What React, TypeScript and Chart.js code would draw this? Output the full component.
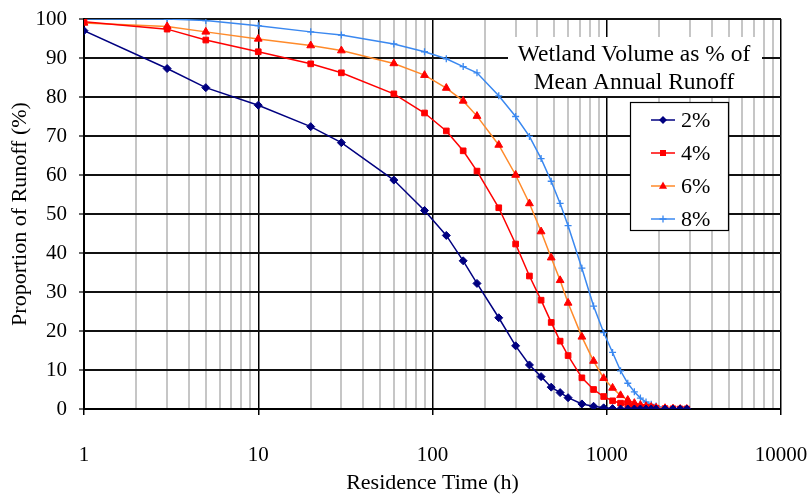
import React, { useEffect, useRef } from 'react';
import { Chart, registerables } from 'chart.js';

Chart.register(...registerables);

// ---------- data ----------
const residenceHours = [1, 3, 5, 10, 20, 30, 60, 90, 120, 150, 180, 240, 300, 360, 420, 480, 540, 600, 720, 840, 960, 1080, 1200, 1320, 1440, 1560, 1680, 1800, 1920, 2160, 2400, 2640, 2880];

const volume2 = [97.0, 87.3, 82.4, 77.9, 72.4, 68.3, 58.7, 50.9, 44.5, 38.0, 32.2, 23.4, 16.2, 11.3, 8.3, 5.6, 4.2, 2.9, 1.3, 0.7, 0.3, 0.1, 0, 0, 0, 0, 0, 0, 0, 0, 0, 0, 0];
const volume4 = [99.3, 97.4, 94.6, 91.6, 88.5, 86.2, 80.8, 75.9, 71.3, 66.2, 61.0, 51.6, 42.3, 34.1, 27.9, 22.2, 17.4, 13.7, 8.0, 5.0, 3.2, 2.1, 1.5, 1.1, 0.8, 0.5, 0.4, 0.3, 0.2, 0.1, 0.05, 0, 0];
const volume6 = [99.0, 98.1, 96.7, 94.9, 93.2, 91.9, 88.6, 85.6, 82.3, 79.0, 75.1, 67.7, 60.0, 52.7, 45.5, 38.8, 33.0, 27.2, 18.5, 12.3, 7.9, 5.4, 3.5, 2.3, 1.5, 1.0, 0.7, 0.5, 0.3, 0.2, 0.1, 0, 0];
const volume8 = [100, 100, 99.6, 98.3, 96.7, 95.9, 93.6, 91.6, 89.8, 87.8, 86.2, 80.3, 75.0, 69.9, 64.2, 58.4, 52.7, 47.0, 36.1, 26.4, 19.6, 14.5, 9.8, 6.6, 4.4, 2.8, 1.8, 1.2, 0.8, 0.3, 0.1, 0, 0];

const seriesLabels = ['2%', '4%', '6%', '8%'];

const xGridValues = [
  1, 2, 3, 4, 5, 6, 7, 8, 9,
  10, 20, 30, 40, 50, 60, 70, 80, 90,
  100, 200, 300, 400, 500, 600, 700, 800, 900,
  1000, 2000, 3000, 4000, 5000, 6000, 7000, 8000, 9000,
  10000,
];
const xMajorValues = [1, 10, 100, 1000, 10000];
const xTickLabels = ['1', '10', '100', '1000', '10000'];

const xAxisTitle = 'Residence Time (h)';
const yAxisTitle = 'Proportion of Runoff (%)';
const legendTitleLines = ['Wetland Volume as % of', 'Mean Annual Runoff'];

// ---------- styles ----------
const SERIF = "'Liberation Serif', 'Times New Roman', serif";
const seriesStyles = [
  { line: '#000080', marker: '#000080', shape: 'rectRot', r: 4 },
  { line: '#ff0000', marker: '#ff0000', shape: 'rect', r: 4 },
  { line: '#ff8a2a', marker: '#ff0000', shape: 'triangle', r: 4.5 },
  { line: '#3a88f0', marker: '#3a88f0', shape: 'cross', r: 3.5 },
];

function drawMarker(ctx: CanvasRenderingContext2D, shape: string, x: number, y: number, r: number, color: string) {
  ctx.fillStyle = color;
  ctx.strokeStyle = color;
  ctx.lineWidth = 1.3;
  ctx.beginPath();
  if (shape === 'rectRot') {
    ctx.moveTo(x, y - r);
    ctx.lineTo(x + r, y);
    ctx.lineTo(x, y + r);
    ctx.lineTo(x - r, y);
    ctx.closePath();
    ctx.fill();
  } else if (shape === 'rect') {
    const s = r * 0.75;
    ctx.rect(x - s, y - s, 2 * s, 2 * s);
    ctx.fill();
  } else if (shape === 'triangle') {
    ctx.moveTo(x, y - r);
    ctx.lineTo(x + r * 0.9, y + r * 0.6);
    ctx.lineTo(x - r * 0.9, y + r * 0.6);
    ctx.closePath();
    ctx.fill();
  } else {
    ctx.moveTo(x, y - r);
    ctx.lineTo(x, y + r);
    ctx.moveTo(x - r, y);
    ctx.lineTo(x + r, y);
    ctx.stroke();
  }
}

const overlayPlugin = {
  id: 'wetlandOverlay',
  afterDraw(chart: any) {
    const ctx: CanvasRenderingContext2D = chart.ctx;
    const area = chart.chartArea;
    ctx.save();

    // legend title (white box over gridlines)
    const tLeft = area.right - 273;
    const tTop = area.top + 18;
    ctx.fillStyle = '#ffffff';
    ctx.fillRect(tLeft, tTop, 254, 59);
    ctx.fillStyle = '#000';
    ctx.font = `23.5px ${SERIF}`;
    ctx.textAlign = 'center';
    ctx.textBaseline = 'middle';
    const cx = tLeft + 126;
    ctx.fillText(legendTitleLines[0], cx, area.top + 36);
    ctx.fillText(legendTitleLines[1], cx, area.top + 64);

    // legend box
    const bLeft = area.right - 151;
    const bTop = area.top + 83;
    const bW = 98;
    const bH = 128;
    ctx.fillStyle = '#ffffff';
    ctx.fillRect(bLeft, bTop, bW, bH);
    ctx.strokeStyle = '#000';
    ctx.lineWidth = 1.2;
    ctx.strokeRect(bLeft + 0.5, bTop + 0.5, bW, bH);

    ctx.font = `22px ${SERIF}`;
    ctx.textAlign = 'left';
    ctx.textBaseline = 'middle';
    seriesLabels.forEach((lab, i) => {
      const st = seriesStyles[i];
      const y = bTop + 18 + i * 33;
      ctx.strokeStyle = st.line;
      ctx.lineWidth = 1.5;
      ctx.beginPath();
      ctx.moveTo(bLeft + 21, y);
      ctx.lineTo(bLeft + 45, y);
      ctx.stroke();
      drawMarker(ctx, st.shape, bLeft + 33, y, st.r, st.marker);
      ctx.fillStyle = '#000';
      ctx.fillText(lab, bLeft + 51, y + 1);
    });

    ctx.restore();
  },
};

export default function App() {
  const canvasRef = useRef<HTMLCanvasElement | null>(null);

  useEffect(() => {
    const canvas = canvasRef.current;
    if (!canvas) return;
    const seriesValues = [volume2, volume4, volume6, volume8];
    const datasets = seriesValues.map((vals, i) => {
      const st = seriesStyles[i];
      return {
        label: seriesLabels[i],
        data: residenceHours.map((x, j) => ({ x, y: vals[j] })),
        borderColor: st.line,
        backgroundColor: st.marker,
        pointBackgroundColor: st.marker,
        pointBorderColor: st.marker,
        pointStyle: st.shape,
        pointRadius: st.r,
        pointBorderWidth: st.shape === 'cross' ? 1.3 : 1,
        borderWidth: 1.5,
        tension: 0,
        fill: false,
      };
    });

    const isMajor = (v: number) => xMajorValues.indexOf(v) >= 0;

    const chart = new Chart(canvas, {
      type: 'line',
      data: { datasets },
      plugins: [overlayPlugin],
      options: {
        animation: false,
        responsive: false,
        devicePixelRatio: 1,
        layout: { padding: { top: 19, right: 27, left: 0, bottom: 0 } },
        plugins: {
          legend: { display: false },
          tooltip: { enabled: false },
        },
        scales: {
          x: {
            type: 'logarithmic',
            min: 1,
            max: 10000,
            afterBuildTicks: (s: any) => {
              s.ticks = xGridValues.map((v) => ({ value: v }));
            },
            afterFit: (s: any) => {
              s.height = 85;
              s.paddingLeft = 0;
              s.paddingRight = 0;
              s.paddingTop = 0;
              s.paddingBottom = 0;
            },
            ticks: {
              autoSkip: false,
              maxRotation: 0,
              minRotation: 0,
              padding: 28,
              color: '#000',
              font: { family: SERIF, size: 21 },
              callback: (v: any) => {
                const i = xMajorValues.indexOf(Number(v));
                return i >= 0 ? xTickLabels[i] : '';
              },
            },
            grid: {
              color: (c: any) => (c.tick && isMajor(c.tick.value) ? '#000000' : '#c6c6c6'),
              lineWidth: (c: any) => (c.tick && isMajor(c.tick.value) ? 1.5 : 2),
              tickColor: (c: any) => (c.tick && isMajor(c.tick.value) ? '#000000' : 'rgba(0,0,0,0)'),
              tickLength: 6,
              tickWidth: 1.5,
            },
            border: { color: '#000', width: 2 },
            title: {
              display: true,
              text: xAxisTitle,
              color: '#000',
              font: { family: SERIF, size: 22, lineHeight: 1 },
              padding: { top: 0, bottom: 0 },
            },
          },
          y: {
            min: 0,
            max: 100,
            afterFit: (s: any) => {
              s.width = 84;
              s.paddingTop = 0;
              s.paddingBottom = 0;
              s.paddingLeft = 0;
              s.paddingRight = 0;
            },
            ticks: {
              stepSize: 10,
              padding: 12,
              color: '#000',
              font: { family: SERIF, size: 21 },
            },
            grid: {
              color: '#111111',
              lineWidth: 2,
              tickColor: '#000',
              tickLength: 5,
              tickWidth: 1.2,
            },
            border: { color: '#000', width: 2 },
            title: {
              display: true,
              text: yAxisTitle,
              color: '#000',
              font: { family: SERIF, size: 22, lineHeight: 1 },
              padding: { top: 9, bottom: 0 },
            },
          },
        },
      },
    } as any);

    return () => chart.destroy();
  }, []);

  return (
    <div style={{ position: 'fixed', left: 0, top: 0, width: 808, height: 494, background: '#fff' }}>
      <canvas ref={canvasRef} width={808} height={494} style={{ width: 808, height: 494, display: 'block' }} />
    </div>
  );
}
